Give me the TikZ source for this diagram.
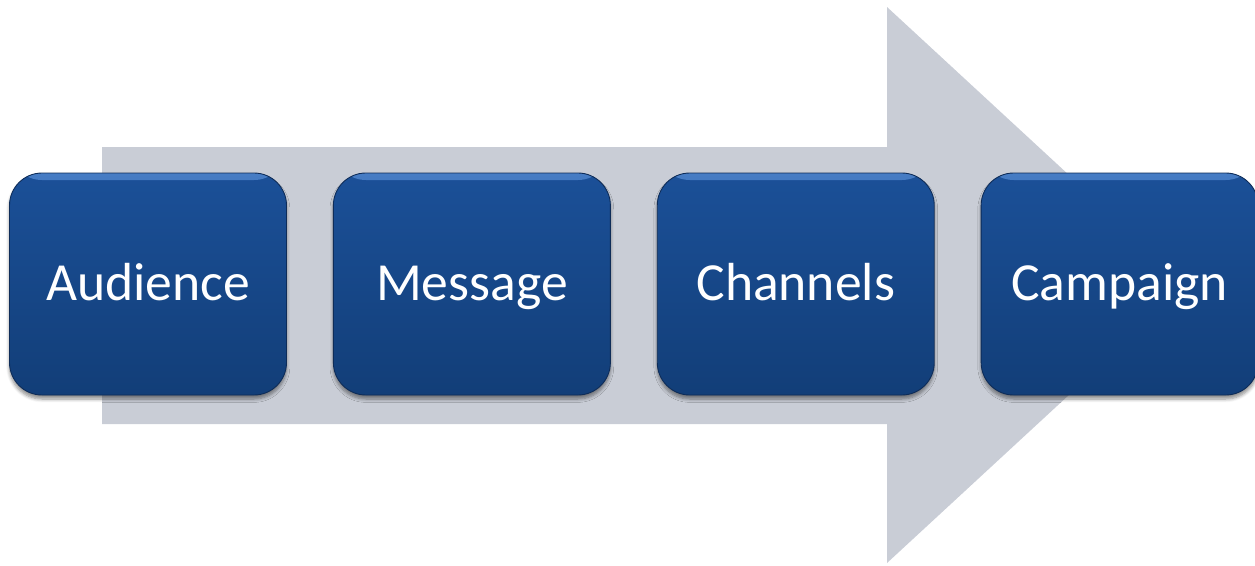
\documentclass[tikz,border=0pt]{standalone}
\usepackage{fontspec}
\setmainfont{Carlito}
\usetikzlibrary{positioning,shadows.blur}

\definecolor{arrowgrey}{RGB}{201,205,214}
\definecolor{boxtop}{RGB}{27,80,152}
\definecolor{boxbottom}{RGB}{18,62,120}
\definecolor{boxedge}{RGB}{14,44,88}
\definecolor{boxshine}{RGB}{70,124,196}

\begin{document}
\begin{tikzpicture}[
    x=0.2mm, y=-0.2mm,
    node distance=0.92cm,
    step box/.style={draw=boxedge, line width=0.5pt, rounded corners=0.65cm,
        minimum width=5.54cm, minimum height=4.44cm,
        top color=boxtop, bottom color=boxbottom,
        text=white, font=\fontsize{30.5}{36}\selectfont,
        text height=0.66cm, text depth=0cm,
        blur shadow={shadow xshift=0pt, shadow yshift=-0.8mm, shadow blur steps=6, shadow opacity=45},
        path picture={\shade[top color=boxshine, bottom color=boxtop]
            (path picture bounding box.north west) rectangle
            ([yshift=-0.14cm]path picture bounding box.north east);}}
]
\useasboundingbox (0,0) rectangle (1255,565);

% Big arrow behind the steps
\fill[arrowgrey] (102,147) -- (887,147) -- (887,7) -- (1188,285)
    -- (887,563) -- (887,424) -- (102,424) -- cycle;

% Steps
\node[step box] (aud) at (148,284) {Audience};
\node[step box, right=of aud] (msg) {Message};
\node[step box, right=of msg] (chan) {Channels};
\node[step box, right=of chan] (camp) {Campaign};

\end{tikzpicture}
\end{document}
